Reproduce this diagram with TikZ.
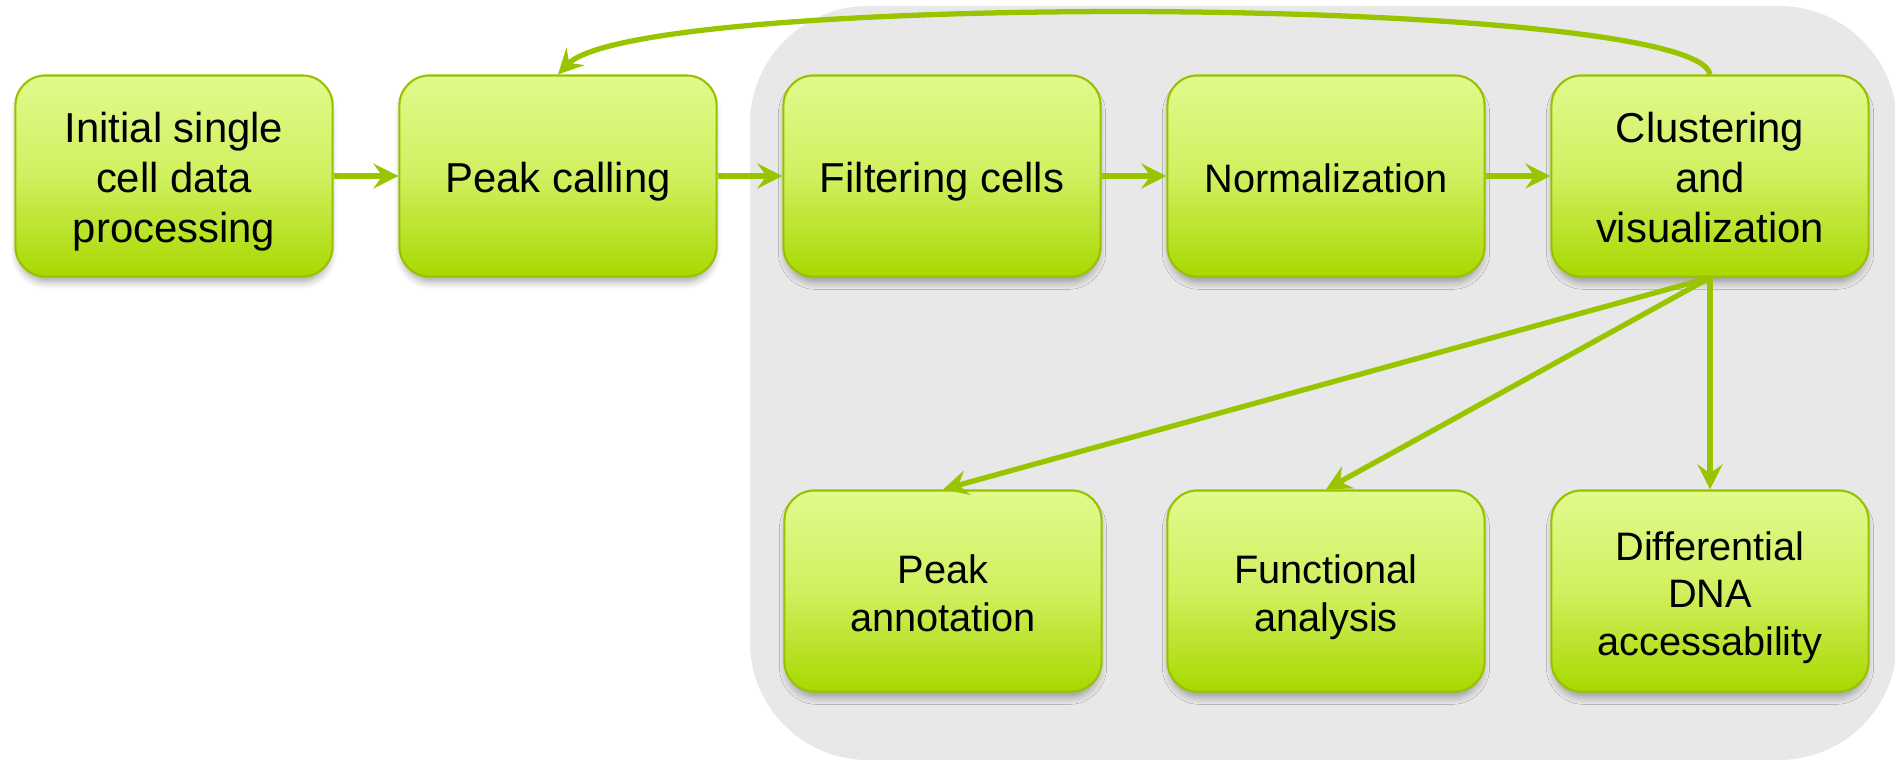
\documentclass[tikz,border=0pt]{standalone}
\usepackage{fontspec}
\setmainfont{Liberation Sans}
\usetikzlibrary{arrows.meta,shadows.blur}
\definecolor{boxtop}{RGB}{225,250,141}
\definecolor{boxmid}{RGB}{208,240,95}
\definecolor{boxbot}{RGB}{168,216,0}
\definecolor{boxborder}{RGB}{153,193,0}
\definecolor{arrowc}{RGB}{153,196,0}
\definecolor{bggray}{RGB}{232,232,232}
\newcommand\topst{\rule{0pt}{14pt}}
\newcommand\botst{\rule[-4.4pt]{0pt}{0pt}}
\begin{document}
\begin{tikzpicture}[x=0.01cm,y=-0.01cm,
  stepbox/.style={rectangle, rounded corners=0.3cm, draw=boxborder, line width=0.6pt,
    top color=boxtop, bottom color=boxbot, middle color=boxmid,
    minimum width=3.17cm, minimum height=2.01cm, align=center, inner sep=0pt,
    font=\fontsize{11.9}{14.2}\selectfont,
    blur shadow={shadow xshift=0pt, shadow yshift=-0.07cm, shadow scale=0.985, shadow blur steps=6, shadow opacity=35}},
  lowbox/.style={stepbox, font=\fontsize{11.3}{13.6}\selectfont},
  flow/.style={draw=arrowc, line width=1.5pt, -{Stealth[length=0.25cm,width=0.25cm,inset=0.09cm]}}]
\useasboundingbox (0,0) rectangle (1895,759);
\fill[bggray, rounded corners=1.18cm] (750,6) rectangle (1897,760);

\node[stepbox] (init) at (174,176) {\topst Initial single\\cell data\\processing\botst};
\node[stepbox] (peak) at (558,176) {\topst Peak calling\botst};
\node[stepbox] (filt) at (942,176) {\topst Filtering cells\botst};
\node[lowbox] (norm) at (1326,176) {\topst Normalization\botst};
\node[stepbox] (clus) at (1710,176) {\topst Clustering\\and\\visualization\botst};
\node[lowbox] (annot) at (943,591) {\topst Peak\\annotation\botst};
\node[lowbox] (func) at (1326,591) {\topst Functional\\analysis\botst};
\node[lowbox] (diff) at (1710,591) {\topst Differential\\DNA\\accessability\botst};

\draw[flow] (init) -- (peak);
\draw[flow] (peak) -- (filt);
\draw[flow] (filt) -- (norm);
\draw[flow] (norm) -- (clus);
\draw[flow] (clus.north) .. controls (1695,-5) and (640,-10) .. (peak.north);
\draw[flow] (clus.south) -- (annot.north);
\draw[flow] (clus.south) -- (func.north);
\draw[flow] (clus.south) -- (diff.north);
\end{tikzpicture}
\end{document}
